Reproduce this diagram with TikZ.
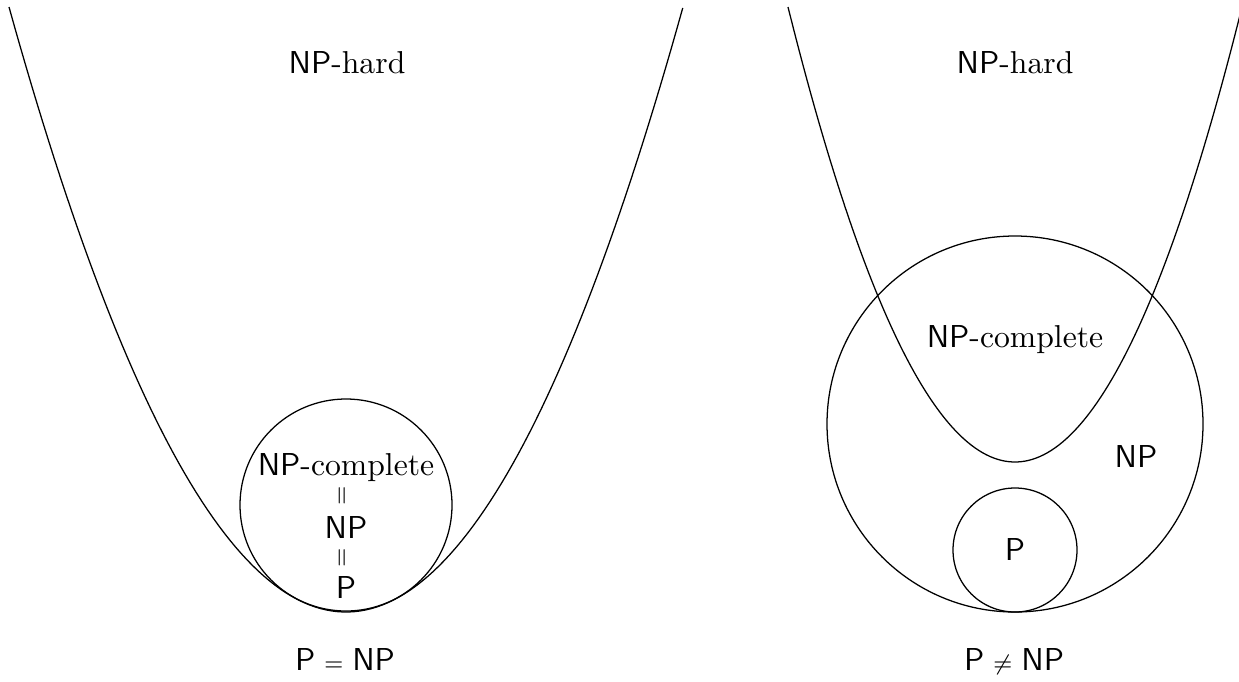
\documentclass[tikz,border=0pt]{standalone}
\usepackage{amsmath,amssymb}
\usepackage{tikz}

\begin{document}
\begin{tikzpicture}[
    x=0.0111cm, y=-0.0111cm,
    setname/.style={anchor=base, inner sep=0pt},
    eqsign/.style={rotate=90, inner sep=0pt, font=\scriptsize},
    setline/.style={line width=0.4pt, samples=120}
  ]
    \useasboundingbox (0,0) rectangle (1239,681);
    \clip (0,0) rectangle (1239,681);

    % Left: P = NP
    \draw [setline, domain=-1:1] plot ({346+337*\x}, {612-605*\x*\x});
    \draw [setline] (346,505) circle [radius=106];

    \node (hardL) [setname] at (347,73) {$\mathsf{NP}$-hard};
    \node (npcL) [setname] at (346,475) {$\mathsf{NP}$-complete};
    \node (eqA) [eqsign] at (343,496) {$=$};
    \node (npL) [setname] at (346,538) {$\mathsf{NP}$};
    \node (eqB) [eqsign] at (343,558) {$=$};
    \node (pL) [setname] at (346,598) {$\mathsf{P}$};
    \node (capL) [setname] at (345,670) {$\mathsf{P} \mathrel{\scriptstyle=} \mathsf{NP}$};

    % Right: P != NP
    \draw [setline, domain=-1:1] plot ({1015+227*\x}, {462-455*\x*\x});
    \draw [setline] (1015,424) circle [radius=188];
    \draw [setline] (1015,550) circle [radius=62];

    \node (hardR) [setname] at (1015,73) {$\mathsf{NP}$-hard};
    \node (npcR) [setname] at (1015,347) {$\mathsf{NP}$-complete};
    \node (npR) [setname] at (1136,467) {$\mathsf{NP}$};
    \node (pR) [setname] at (1015,560) {$\mathsf{P}$};
    \node (capR) [setname] at (1014,670) {$\mathsf{P} \mathrel{\scriptstyle\neq} \mathsf{NP}$};

  \end{tikzpicture}
\end{document}
